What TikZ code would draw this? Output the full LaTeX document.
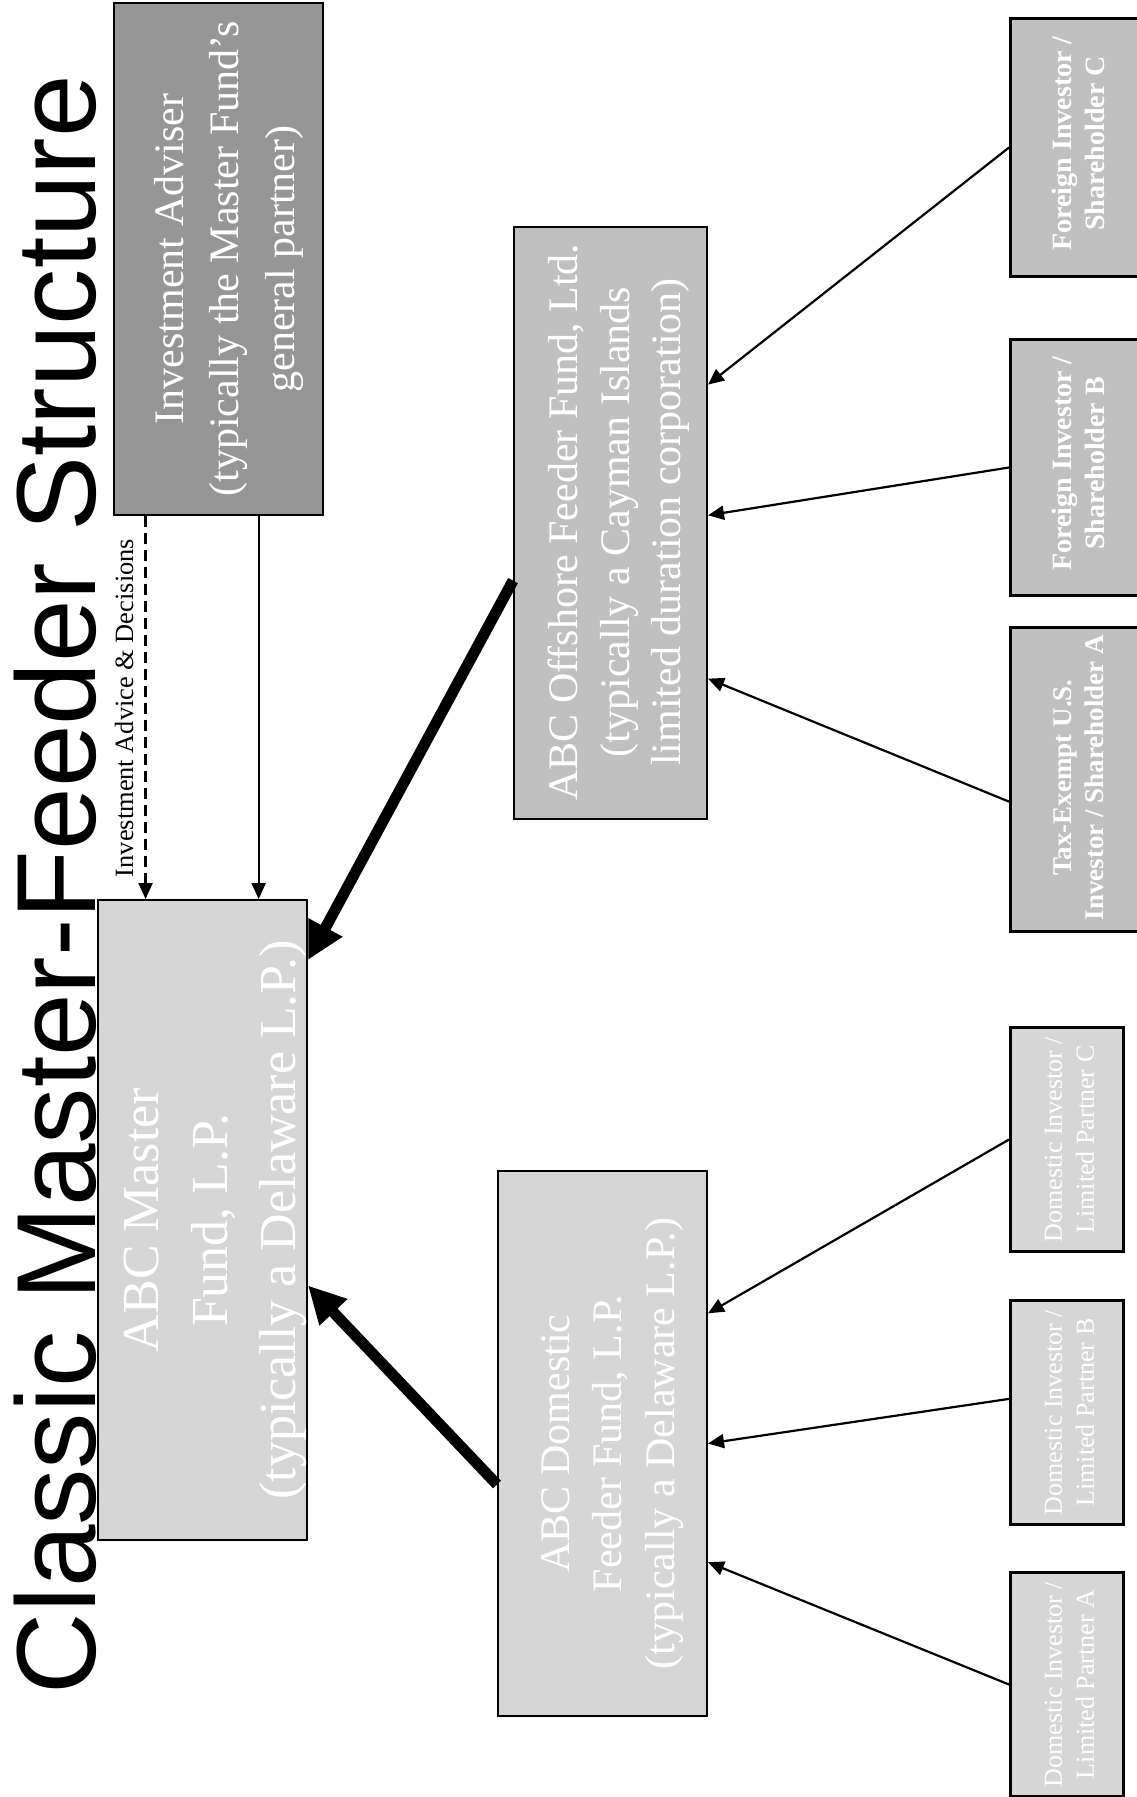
\documentclass[tikz,border=0pt]{standalone}
\usepackage{fontspec}
\setmainfont{Liberation Serif}
\newfontfamily\titlefont{Liberation Sans}
\usetikzlibrary{arrows.meta,calc}
\definecolor{advgray}{RGB}{150,150,150}
\definecolor{midgray}{RGB}{192,192,192}
\definecolor{lightgray}{RGB}{214,214,214}
\begin{document}
\begin{tikzpicture}[x=1pt,y=-1pt,
  box/.style={draw=black,line width=2pt,inner sep=0pt,anchor=north west},
  invbox/.style={draw=black,line width=3pt,inner sep=0pt,anchor=north west},
  lbl/.style={rotate=90,inner sep=0pt,text=white},
  feed/.style={line width=2.2pt,-{Triangle[length=16pt,width=14pt]}},
  bigarrow/.style={line width=11pt,-{Triangle[length=37pt,width=36pt]}},
]
\useasboundingbox[fill=white] (0,0) rectangle (1136,1797);

% title
\node[rotate=90,anchor=base,inner sep=0pt,font=\titlefont\fontsize{112.5}{112.5}\selectfont] (title) at (95,884.5) {Classic Master-Feeder Structure};

% main boxes
\node[box,fill=advgray,minimum width=209pt,minimum height=512pt] (adv) at (113,2) {};
\node[box,fill=lightgray,minimum width=209pt,minimum height=640pt] (master) at (97,899) {};
\node[box,fill=midgray,minimum width=193pt,minimum height=592pt] (off) at (513,226) {};
\node[box,fill=lightgray,minimum width=209pt,minimum height=545pt] (dom) at (497,1170) {};

% investor boxes
\node[invbox,fill=midgray,minimum width=141pt,minimum height=258pt] (fc) at (1009,17) {};
\node[invbox,fill=midgray,minimum width=141pt,minimum height=256pt] (fb) at (1009,338) {};
\node[invbox,fill=midgray,minimum width=141pt,minimum height=304pt] (ta) at (1009,626) {};
\node[invbox,fill=lightgray,minimum width=113pt,minimum height=224pt] (dc) at (1009,1026) {};
\node[invbox,fill=lightgray,minimum width=113pt,minimum height=224pt] (db) at (1009,1299) {};
\node[invbox,fill=lightgray,minimum width=113pt,minimum height=224pt] (da) at (1009,1571) {};

% texts
\node[lbl,font=\fontsize{42}{55.5}\selectfont] (advtxt) at ($(adv.center)+(9,0)$)
  {\begin{tabular}{@{}c@{}}Investment Adviser\\(typically the Master Fund’s\\general partner)\end{tabular}};
\node[lbl,font=\fontsize{52}{68.5}\selectfont] (mastertxt) at ($(master.center)+(11,0)$)
  {\begin{tabular}{@{}c@{}}ABC Master\\Fund, L.P.\\(typically a Delaware L.P.)\end{tabular}};
\node[lbl,font=\fontsize{42}{51.5}\selectfont] (offtxt) at ($(off.center)+(8.5,-1)$)
  {\begin{tabular}{@{}c@{}}ABC Offshore Feeder Fund, Ltd.\\(typically a Cayman Islands\\limited duration corporation)\end{tabular}};
\node[lbl,font=\fontsize{42}{52.5}\selectfont] (domtxt) at ($(dom.center)+(8.5,0)$)
  {\begin{tabular}{@{}c@{}}ABC Domestic\\Feeder Fund, L.P.\\(typically a Delaware L.P.)\end{tabular}};

\node[lbl,font=\bfseries\fontsize{28}{33}\selectfont] (fctxt) at ($(fc.center)+(0,-4)$)
  {\begin{tabular}{@{}c@{}}Foreign Investor /\\Shareholder C\end{tabular}};
\node[lbl,font=\bfseries\fontsize{28}{33}\selectfont] (fbtxt) at ($(fb.center)+(0,-4)$)
  {\begin{tabular}{@{}c@{}}Foreign Investor /\\Shareholder B\end{tabular}};
\node[lbl,font=\bfseries\fontsize{27}{32}\selectfont] (tatxt) at ($(ta.center)+(0,-2)$)
  {\begin{tabular}{@{}c@{}}Tax-Exempt U.S.\\Investor / Shareholder A\end{tabular}};
\node[lbl,font=\fontsize{26}{32}\selectfont] (dctxt) at ($(dc.center)+(4.5,0)$)
  {\begin{tabular}{@{}c@{}}Domestic Investor /\\Limited Partner C\end{tabular}};
\node[lbl,font=\fontsize{26}{32}\selectfont] (dbtxt) at ($(db.center)+(4.5,0)$)
  {\begin{tabular}{@{}c@{}}Domestic Investor /\\Limited Partner B\end{tabular}};
\node[lbl,font=\fontsize{26}{32}\selectfont] (datxt) at ($(da.center)+(4.5,0)$)
  {\begin{tabular}{@{}c@{}}Domestic Investor /\\Limited Partner A\end{tabular}};

% adviser label
\node[rotate=90,anchor=base,inner sep=0pt,font=\fontsize{26.4}{30}\selectfont] (advlbl) at (133,708) {Investment Advice \& Decisions};

% adviser connectors
\coordinate (dend) at ($(master.north west)!0.23!(master.north east)$);
\coordinate (send) at ($(master.north west)!0.766!(master.north east)$);
\draw[feed,dash pattern=on 11pt off 6pt] (adv.south -| dend) -- (dend);
\draw[feed] (adv.south -| send) -- (send);

% feeder to master
\draw[bigarrow] ($(off.north west)!0.597!(off.south west)$) -- ($(master.north east)!0.095!(master.south east)$);
\draw[bigarrow] ($(dom.north west)!0.575!(dom.south west)$) -- ($(master.north east)!0.602!(master.south east)$);

% investors to feeders
\draw[feed] (fc.west) -- ($(off.north east)!0.267!(off.south east)$);
\draw[feed] (fb.west) -- ($(off.north east)!0.487!(off.south east)$);
\draw[feed] ($(ta.north west)!0.572!(ta.south west)$) -- ($(off.north east)!0.762!(off.south east)$);
\draw[feed] (dc.west) -- ($(dom.north east)!0.262!(dom.south east)$);
\draw[feed] ($(db.north west)!0.44!(db.south west)$) -- ($(dom.north east)!0.5!(dom.south east)$);
\draw[feed] (da.west) -- ($(dom.north east)!0.717!(dom.south east)$);
\end{tikzpicture}
\end{document}
